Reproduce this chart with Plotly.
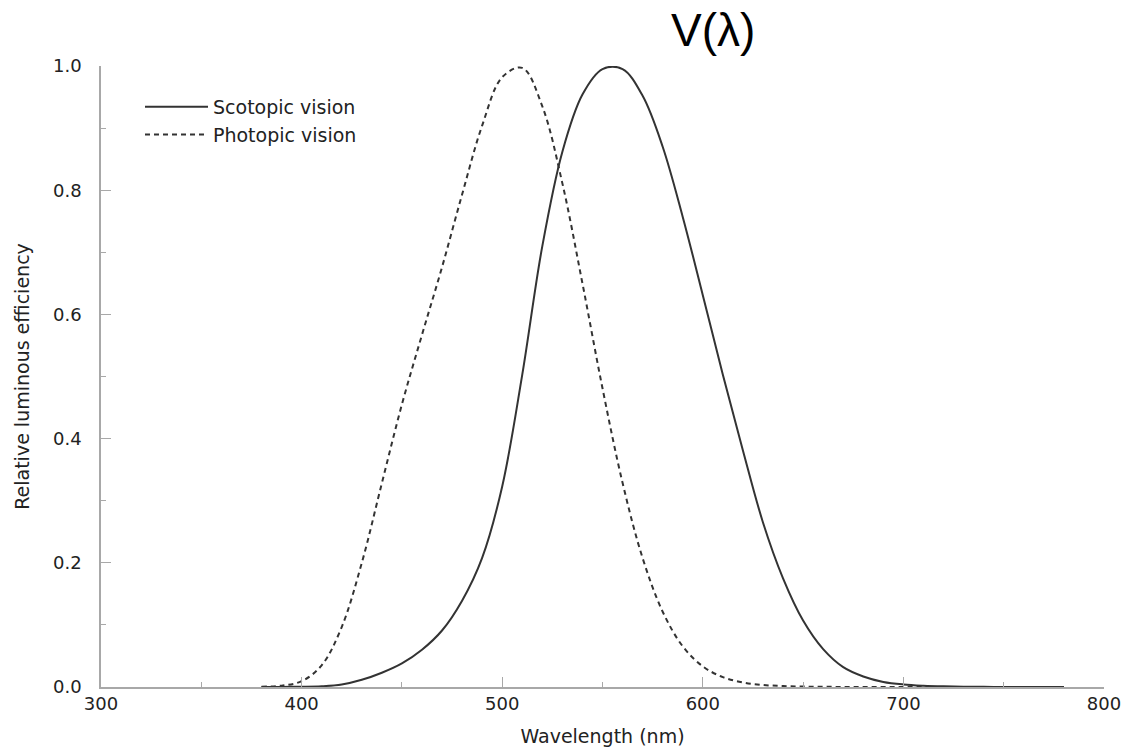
import plotly.graph_objects as go

# Wavelengths (nm)
wavelength = [380, 390, 400, 410, 420, 430, 440, 450, 460, 470, 480, 490, 500,
              510, 520, 530, 540, 550, 560, 570, 580, 590, 600, 610,
              620, 630, 640, 650, 660, 670, 680, 690, 700, 710, 720, 730, 740,
              750, 760, 770, 780]

# Solid curve (peak near 555 nm)
scotopic_label_curve = [0.00004, 0.00012, 0.0004, 0.0012, 0.004, 0.0116, 0.023,
                        0.038, 0.060, 0.091, 0.139, 0.208, 0.323, 0.503,
                        0.710, 0.862, 0.954, 0.995, 0.995, 0.952, 0.870,
                        0.757, 0.631, 0.503, 0.381, 0.265, 0.175, 0.107, 0.061,
                        0.032, 0.017, 0.0082, 0.0041, 0.0021, 0.00105, 0.00052,
                        0.00025, 0.00012, 0.00006, 0.00003, 0.000015]

# Dashed curve (peak near 507 nm)
photopic_label_curve = [0.00059, 0.0022, 0.0093, 0.0348, 0.0966, 0.1998, 0.3281,
                        0.455, 0.567, 0.676, 0.793, 0.904, 0.982, 0.997,
                        0.935, 0.811, 0.650, 0.481, 0.3288, 0.2076, 0.1212,
                        0.0655, 0.0332, 0.0159, 0.0074, 0.0033, 0.0015, 0.00068,
                        0.00031, 0.00015, 0.00007, 0.000035, 0.000018, 0.000009,
                        0.000005, 0.0000026, 0.0000014, 0.0000008, 0.0000004,
                        0.0000002, 0.0000001]

x_tickvals = [300, 400, 500, 600, 700, 800]
y_tickvals = [0.0, 0.2, 0.4, 0.6, 0.8, 1.0]

FONT = "DejaVu Sans"
LINE = "#333333"
AXIS = "#a8a8a8"

L, R, T, B = 101, 30, 66, 62
W, H = 1134, 749
PW, PH = W - L - R, H - T - B

fig = go.Figure()
fig.add_trace(go.Scatter(x=wavelength, y=photopic_label_curve, mode="lines",
                         name="Photopic vision", line_shape="spline",
                         line=dict(color=LINE, width=2, dash="5px,4px")))
fig.add_trace(go.Scatter(x=wavelength, y=scotopic_label_curve, mode="lines",
                         name="Scotopic vision", line_shape="spline",
                         line=dict(color=LINE, width=2)))

fig.update_layout(
    width=W, height=H,
    margin=dict(l=L, r=R, t=T, b=B),
    paper_bgcolor="white", plot_bgcolor="white",
    font=dict(family=FONT, color="#222222", size=16),
    showlegend=True,
    legend=dict(x=(145 - 5 - L) / PW, y=1 - (88 - T) / PH, xanchor="left", yanchor="top",
                traceorder="reversed", font=dict(size=19, family=FONT),
                bgcolor="rgba(0,0,0,0)", itemwidth=63, tracegroupgap=0),
    annotations=[dict(text="V(λ)", x=(713 - L) / PW, y=1 + (T - 30) / PH,
                      xref="paper", yref="paper", showarrow=False,
                      xanchor="center", yanchor="middle",
                      font=dict(family="Liberation Sans", size=46, color="#000000"))],
)

fig.update_xaxes(range=[300, 800], tickvals=x_tickvals, automargin=False,
                 ticks="inside", ticklen=10, tickwidth=1, tickcolor=AXIS,
                 showline=True, linecolor=AXIS, linewidth=1.5, mirror=False,
                 showgrid=False, zeroline=False,
                 minor=dict(dtick=50, ticks="inside", ticklen=5, tickcolor=AXIS, showgrid=False),
                 tickfont=dict(size=18),
                 title=dict(text="Wavelength (nm)", font=dict(size=19), standoff=16))
fig.update_yaxes(range=[0, 1], tickvals=y_tickvals, tickformat=".1f", automargin=False,
                 ticks="inside", ticklen=10, tickwidth=1, tickcolor=AXIS,
                 showline=True, linecolor=AXIS, linewidth=1.5, mirror=False,
                 showgrid=False, zeroline=False,
                 minor=dict(dtick=0.1, ticks="inside", ticklen=5, tickcolor=AXIS, showgrid=False),
                 tickfont=dict(size=18), ticklabelstandoff=14,
                 title=dict(text="Relative luminous efficiency", font=dict(size=19), standoff=18))

fig.write_html("out.html")
